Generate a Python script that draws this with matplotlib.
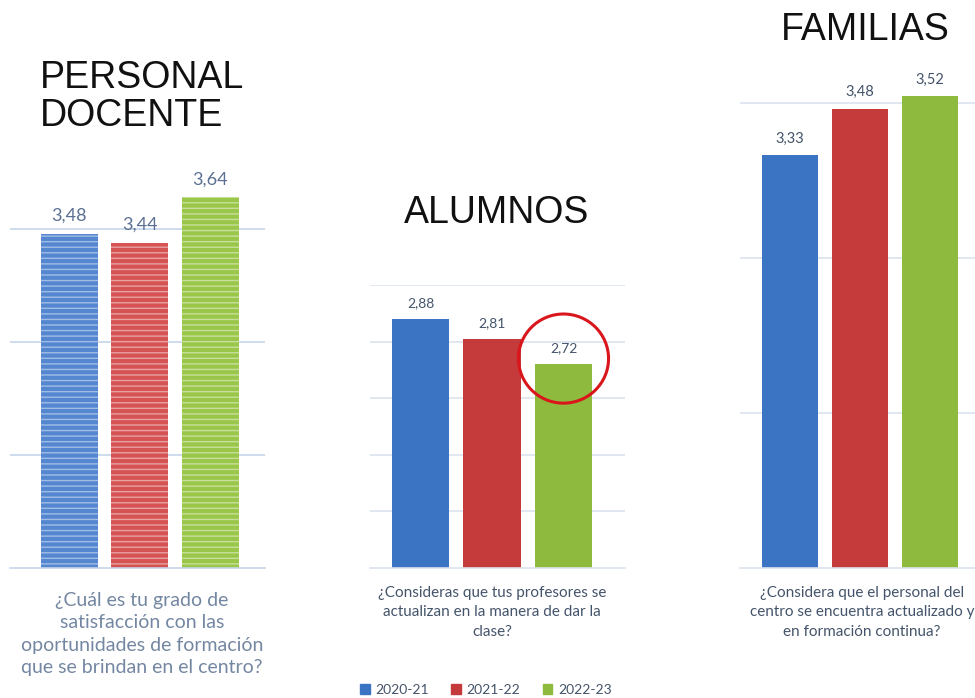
import matplotlib.pyplot as plt
from matplotlib.patches import Ellipse, Rectangle

cursos = ['2020-21', '2021-22', '2022-23']
docente = [3.48, 3.44, 3.64]
alumnos = [2.88, 2.81, 2.72]
familias = [3.33, 3.48, 3.52]

preg_docente = '¿Cuál es tu grado de\nsatisfacción con las\noportunidades de formación\nque se brindan en el centro?'
preg_alumnos = '¿Consideras que tus profesores se\nactualizan en la manera de dar la\nclase?'
preg_familias = '¿Considera que el personal del\ncentro se encuentra actualizado y\nen formación continua?'

W, H = 975, 698
def box(l, b, r, t):
    return [l / W, 1 - b / H, (r - l) / W, (b - t) / H]

fig = plt.figure(figsize=(9.75, 6.98), dpi=100)
fig.patch.set_facecolor('white')

colores = ['#3B74C2', '#C53A3B', '#8EBB3E']
suaves = ['#5587D0', '#D65354', '#9AC64A']

def panel(ax, vals, cols, ylim, ticks, lab_size, lab_color, grid_color, hatch=None):
    for i, v in enumerate(vals):
        ax.bar(i, v - ylim[0], bottom=ylim[0], width=0.81, color=cols[i],
               edgecolor=(1, 1, 1, 0.45) if hatch else cols[i], linewidth=0,
               hatch=hatch, zorder=2)
        ax.annotate(f'{v:.2f}'.replace('.', ','), (i, v), xytext=(0, 7),
                    textcoords='offset points', ha='center', va='bottom',
                    fontsize=lab_size, color=lab_color, family='Lato')
    ax.set_ylim(*ylim)
    ax.set_yticks(ticks)
    ax.yaxis.grid(True, color=grid_color, linewidth=1.2, zorder=0)
    ax.set_axisbelow(True)
    for s in ['top', 'right', 'left']:
        ax.spines[s].set_visible(False)
    ax.spines['bottom'].set_color(grid_color)
    ax.spines['bottom'].set_linewidth(1.2)
    ax.tick_params(length=0, labelleft=False, labelbottom=False)

plt.rcParams['hatch.linewidth'] = 1.0

ax1 = fig.add_axes(box(10, 568, 265, 116))
panel(ax1, docente, suaves, (2.0, 4.0), [2.5, 3.0, 3.5], 13, '#5A6F92', '#C5D5EA', hatch='---')
ax1.set_xlim(-0.84, 2.78)

ax2 = fig.add_axes(box(370, 568, 625, 285))
panel(ax2, alumnos, colores, (2.0, 3.0), [2.2, 2.4, 2.6, 2.8, 3.0], 10, '#44546A', '#DCE3EE')
ax2.set_xlim(-0.706, 2.86)
ax2.add_patch(Ellipse((2, alumnos[2] + 0.02), 1.26, 0.315, fill=False,
                      edgecolor='#D9161C', linewidth=2.2, zorder=5, clip_on=False))

ax3 = fig.add_axes(box(740, 568, 1000, 87))
panel(ax3, familias, colores, (2.0, 3.55), [2.5, 3.0, 3.5], 10.5, '#44546A', '#DCE3EE')
ax3.set_xlim(-0.714, 3.0)

tfont = dict(family='Liberation Sans', fontsize=27, color='#111111')
fig.text(40 / W, 1 - 60 / H, 'PERSONAL\nDOCENTE', ha='left', va='top', linespacing=1.08, **tfont)
fig.text(497 / W, 1 - 213 / H, 'ALUMNOS', ha='center', va='center', **tfont)
fig.text(865 / W, 1 - 30 / H, 'FAMILIAS', ha='center', va='center', **tfont)

fig.text(142 / W, 1 - 634 / H, preg_docente, ha='center', va='center', family='Lato',
         fontsize=14, color='#7487A2', linespacing=1.4)
fig.text(492 / W, 1 - 612 / H, preg_alumnos, ha='center', va='center', family='Lato',
         fontsize=11, color='#44546A', linespacing=1.5)
fig.text(862 / W, 1 - 612 / H, preg_familias, ha='center', va='center', family='Lato',
         fontsize=11, color='#44546A', linespacing=1.5)

# leyenda
handles = [Rectangle((0, 0), 1, 1, color=c) for c in colores]
fig.legend(handles, cursos, loc='center', bbox_to_anchor=(486 / W, 1 - 690 / H), ncol=3,
           frameon=False, handlelength=0.7, handleheight=0.7, handletextpad=0.4,
           columnspacing=1.6, prop={'family': 'Lato', 'size': 10}, labelcolor='#44546A')

fig.savefig('out.png', dpi=100)
